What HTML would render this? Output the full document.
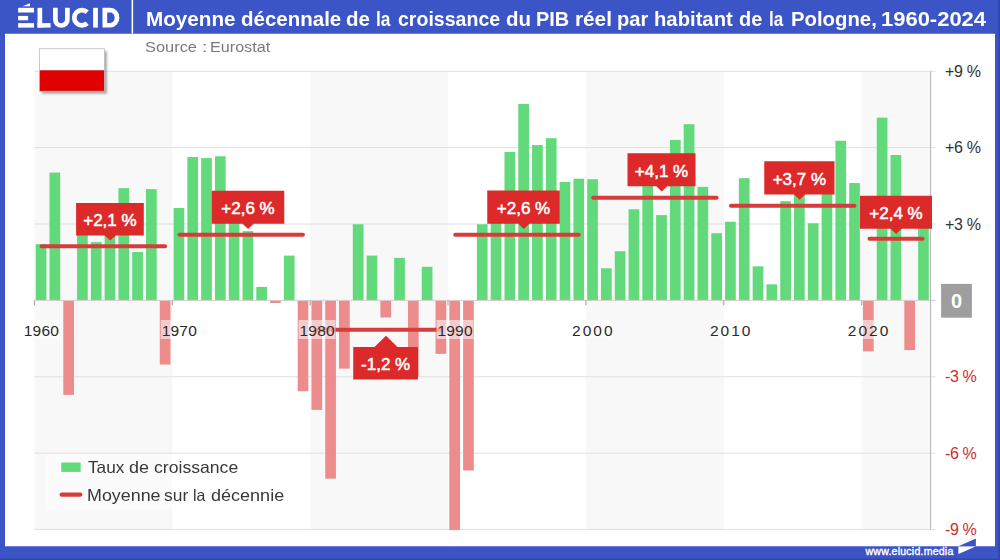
<!DOCTYPE html>
<html><head><meta charset="utf-8"><style>
html,body{margin:0;padding:0;background:#fff;}
body{width:1000px;height:560px;position:relative;overflow:hidden;font-family:"Liberation Sans",sans-serif;}
svg{position:absolute;left:0;top:0;}
.bt{font-family:"Liberation Sans",sans-serif;font-weight:normal;font-size:17px;fill:#fff;stroke:#fff;stroke-width:0.5px;}
.xt{font-family:"Liberation Sans",sans-serif;font-size:15.5px;fill:#2a2a2a;letter-spacing:2px;}
.yt{font-family:"Liberation Sans",sans-serif;font-size:16px;fill:#333;letter-spacing:-0.35px;}
.neg{fill:#cc2e2e;}
.tw{position:absolute;top:6.8px;color:#fff;font-weight:bold;font-size:19.8px;white-space:nowrap;line-height:24px;transform-origin:0 0;}
.src{position:absolute;color:#7a7a7a;font-size:14px;white-space:nowrap;line-height:18px;transform-origin:0 0;}
.lg{position:absolute;color:#383838;font-size:16.5px;white-space:nowrap;line-height:18px;transform-origin:0 0;}
.www{position:absolute;left:865.5px;top:544.3px;color:#fff;font-weight:normal;font-size:10.6px;white-space:nowrap;line-height:14px;letter-spacing:0.2px;-webkit-text-stroke:0.35px #fff;}
</style></head><body>
<svg width="1000" height="560" viewBox="0 0 1000 560">
<rect x="0" y="0" width="1000" height="560" fill="#fff"/>
<rect x="34.4" y="71.25" width="137.88" height="458.25" fill="#f8f8f8"/><rect x="310.15" y="71.25" width="137.88" height="458.25" fill="#f8f8f8"/><rect x="585.91" y="71.25" width="137.88" height="458.25" fill="#f8f8f8"/><rect x="861.66" y="71.25" width="68.94" height="458.25" fill="#f8f8f8"/><line x1="34.4" y1="529.54" x2="935.5" y2="529.54" stroke="#e0e0e0" stroke-width="1"/><line x1="34.4" y1="453.16" x2="935.5" y2="453.16" stroke="#e0e0e0" stroke-width="1"/><line x1="34.4" y1="376.78" x2="935.5" y2="376.78" stroke="#e0e0e0" stroke-width="1"/><line x1="34.4" y1="224.02" x2="935.5" y2="224.02" stroke="#e0e0e0" stroke-width="1"/><line x1="34.4" y1="147.64" x2="935.5" y2="147.64" stroke="#e0e0e0" stroke-width="1"/><line x1="34.4" y1="71.26" x2="935.5" y2="71.26" stroke="#e0e0e0" stroke-width="1"/><rect x="35.7" y="244.13" width="10.7" height="56.27" fill="#62d97b"/><rect x="49.49" y="172.59" width="10.7" height="127.81" fill="#62d97b"/><rect x="63.28" y="300.4" width="10.7" height="94.46" fill="#ec8c8c"/><rect x="77.06" y="211.29" width="10.7" height="89.11" fill="#62d97b"/><rect x="90.85" y="242.1" width="10.7" height="58.3" fill="#62d97b"/><rect x="104.64" y="211.29" width="10.7" height="89.11" fill="#62d97b"/><rect x="118.43" y="188.12" width="10.7" height="112.28" fill="#62d97b"/><rect x="132.21" y="252.03" width="10.7" height="48.37" fill="#62d97b"/><rect x="146" y="189.14" width="10.7" height="111.26" fill="#62d97b"/><rect x="159.79" y="300.4" width="10.7" height="64.16" fill="#ec8c8c"/><rect x="173.58" y="207.98" width="10.7" height="92.42" fill="#62d97b"/><rect x="187.36" y="157.06" width="10.7" height="143.34" fill="#62d97b"/><rect x="201.15" y="158.08" width="10.7" height="142.32" fill="#62d97b"/><rect x="214.94" y="156.3" width="10.7" height="144.1" fill="#62d97b"/><rect x="228.73" y="193.98" width="10.7" height="106.42" fill="#62d97b"/><rect x="242.52" y="231.15" width="10.7" height="69.25" fill="#62d97b"/><rect x="256.3" y="286.91" width="10.7" height="13.49" fill="#62d97b"/><rect x="270.09" y="300.4" width="10.7" height="2.55" fill="#ec8c8c"/><rect x="283.88" y="255.59" width="10.7" height="44.81" fill="#62d97b"/><rect x="297.67" y="300.4" width="10.7" height="90.89" fill="#ec8c8c"/><rect x="311.45" y="300.4" width="10.7" height="109.48" fill="#ec8c8c"/><rect x="325.24" y="300.4" width="10.7" height="178.22" fill="#ec8c8c"/><rect x="339.03" y="300.4" width="10.7" height="68.23" fill="#ec8c8c"/><rect x="352.82" y="224.27" width="10.7" height="76.13" fill="#62d97b"/><rect x="366.6" y="255.59" width="10.7" height="44.81" fill="#62d97b"/><rect x="380.39" y="300.4" width="10.7" height="17.06" fill="#ec8c8c"/><rect x="394.18" y="257.88" width="10.7" height="42.52" fill="#62d97b"/><rect x="407.97" y="300.4" width="10.7" height="76.13" fill="#ec8c8c"/><rect x="421.76" y="266.79" width="10.7" height="33.61" fill="#62d97b"/><rect x="435.54" y="300.4" width="10.7" height="53.47" fill="#ec8c8c"/><rect x="449.33" y="300.4" width="10.7" height="229.65" fill="#ec8c8c"/><rect x="463.12" y="300.4" width="10.7" height="170.07" fill="#ec8c8c"/><rect x="476.91" y="224.27" width="10.7" height="76.13" fill="#62d97b"/><rect x="490.69" y="217.4" width="10.7" height="83" fill="#62d97b"/><rect x="504.48" y="151.97" width="10.7" height="148.43" fill="#62d97b"/><rect x="518.27" y="103.85" width="10.7" height="196.55" fill="#62d97b"/><rect x="532.06" y="145.09" width="10.7" height="155.31" fill="#62d97b"/><rect x="545.84" y="138.22" width="10.7" height="162.18" fill="#62d97b"/><rect x="559.63" y="182.01" width="10.7" height="118.39" fill="#62d97b"/><rect x="573.42" y="178.7" width="10.7" height="121.7" fill="#62d97b"/><rect x="587.21" y="179.21" width="10.7" height="121.19" fill="#62d97b"/><rect x="601" y="268.32" width="10.7" height="32.08" fill="#62d97b"/><rect x="614.78" y="251.26" width="10.7" height="49.14" fill="#62d97b"/><rect x="628.57" y="209.25" width="10.7" height="91.15" fill="#62d97b"/><rect x="642.36" y="170.55" width="10.7" height="129.85" fill="#62d97b"/><rect x="656.15" y="215.11" width="10.7" height="85.29" fill="#62d97b"/><rect x="669.93" y="140" width="10.7" height="160.4" fill="#62d97b"/><rect x="683.72" y="124.22" width="10.7" height="176.18" fill="#62d97b"/><rect x="697.51" y="186.85" width="10.7" height="113.55" fill="#62d97b"/><rect x="711.3" y="233.19" width="10.7" height="67.21" fill="#62d97b"/><rect x="725.08" y="221.73" width="10.7" height="78.67" fill="#62d97b"/><rect x="738.87" y="178.19" width="10.7" height="122.21" fill="#62d97b"/><rect x="752.66" y="266.28" width="10.7" height="34.12" fill="#62d97b"/><rect x="766.45" y="284.36" width="10.7" height="16.04" fill="#62d97b"/><rect x="780.24" y="201.11" width="10.7" height="99.29" fill="#62d97b"/><rect x="794.02" y="190.92" width="10.7" height="109.48" fill="#62d97b"/><rect x="807.81" y="223.26" width="10.7" height="77.14" fill="#62d97b"/><rect x="821.6" y="172.34" width="10.7" height="128.06" fill="#62d97b"/><rect x="835.39" y="140.77" width="10.7" height="159.63" fill="#62d97b"/><rect x="849.17" y="183.03" width="10.7" height="117.37" fill="#62d97b"/><rect x="862.96" y="300.4" width="10.7" height="50.92" fill="#ec8c8c"/><rect x="876.75" y="117.6" width="10.7" height="182.8" fill="#62d97b"/><rect x="890.54" y="155.02" width="10.7" height="145.38" fill="#62d97b"/><rect x="904.32" y="300.4" width="10.7" height="49.65" fill="#ec8c8c"/><rect x="918.11" y="222.49" width="10.7" height="77.91" fill="#62d97b"/><line x1="34.4" y1="300.4" x2="935.5" y2="300.4" stroke="#d8cccc" stroke-width="1"/><line x1="34.4" y1="300.4" x2="34.4" y2="305.4" stroke="#9c9c9c" stroke-width="1"/><line x1="172.28" y1="300.4" x2="172.28" y2="305.4" stroke="#9c9c9c" stroke-width="1"/><line x1="310.15" y1="300.4" x2="310.15" y2="305.4" stroke="#9c9c9c" stroke-width="1"/><line x1="448.03" y1="300.4" x2="448.03" y2="305.4" stroke="#9c9c9c" stroke-width="1"/><line x1="585.91" y1="300.4" x2="585.91" y2="305.4" stroke="#9c9c9c" stroke-width="1"/><line x1="723.78" y1="300.4" x2="723.78" y2="305.4" stroke="#9c9c9c" stroke-width="1"/><line x1="861.66" y1="300.4" x2="861.66" y2="305.4" stroke="#9c9c9c" stroke-width="1"/><line x1="930.6" y1="71.25" x2="930.6" y2="529.5" stroke="#b4b4b4" stroke-width="1"/>
<line x1="41.59" y1="246.17" x2="165.08" y2="246.17" stroke="#d63c3c" stroke-width="4" stroke-linecap="round"/><line x1="179.47" y1="234.71" x2="302.96" y2="234.71" stroke="#d63c3c" stroke-width="4" stroke-linecap="round"/><line x1="317.35" y1="329.68" x2="440.84" y2="329.68" stroke="#d63c3c" stroke-width="4" stroke-linecap="round"/><line x1="455.22" y1="234.71" x2="578.71" y2="234.71" stroke="#d63c3c" stroke-width="4" stroke-linecap="round"/><line x1="593.1" y1="197.8" x2="716.59" y2="197.8" stroke="#d63c3c" stroke-width="4" stroke-linecap="round"/><line x1="730.98" y1="205.69" x2="854.47" y2="205.69" stroke="#d63c3c" stroke-width="4" stroke-linecap="round"/><line x1="869.5" y1="238.79" x2="922.5" y2="238.79" stroke="#d63c3c" stroke-width="4" stroke-linecap="round"/>
<rect x="22.79" y="320" width="37" height="19" fill="#fff" fill-opacity="0.55"/><text x="41.49" y="335.8" text-anchor="middle" class="xt" style="letter-spacing:0.25px">1960</text><rect x="160.67" y="320" width="37" height="19" fill="#fff" fill-opacity="0.55"/><text x="179.37" y="335.8" text-anchor="middle" class="xt" style="letter-spacing:0.25px">1970</text><rect x="298.55" y="320" width="37" height="19" fill="#fff" fill-opacity="0.55"/><text x="317.25" y="335.8" text-anchor="middle" class="xt" style="letter-spacing:0.25px">1980</text><rect x="436.42" y="320" width="37" height="19" fill="#fff" fill-opacity="0.55"/><text x="455.12" y="335.8" text-anchor="middle" class="xt" style="letter-spacing:0.25px">1990</text><rect x="574.3" y="320" width="37" height="19" fill="#fff" fill-opacity="0.55"/><text x="593.3" y="335.8" text-anchor="middle" class="xt">2000</text><rect x="712.18" y="320" width="37" height="19" fill="#fff" fill-opacity="0.55"/><text x="731.18" y="335.8" text-anchor="middle" class="xt">2010</text><rect x="850.06" y="320" width="37" height="19" fill="#fff" fill-opacity="0.55"/><text x="869.06" y="335.8" text-anchor="middle" class="xt">2020</text>
<path d="M76.1,203H143.8V235.4H115.73L110.23,240.6L104.73,235.4H76.1Z" fill="#dc2a2a"/><text x="109.95" y="226" text-anchor="middle" class="bt">+2,1 %</text><path d="M211.75,190.75H284.25V223.75H253.61L248.11,228.95L242.61,223.75H211.75Z" fill="#dc2a2a"/><text x="248" y="214.05" text-anchor="middle" class="bt">+2,6 %</text><path d="M353.25,347H374.49L385.99,335.7L397.49,347H418V379.5H353.25Z" fill="#dc2a2a"/><text x="385.62" y="370.05" text-anchor="middle" class="bt">-1,2 %</text><path d="M487.25,190.6H559.75V223.75H529.36L523.86,228.95L518.36,223.75H487.25Z" fill="#dc2a2a"/><text x="523.5" y="213.98" text-anchor="middle" class="bt">+2,6 %</text><path d="M627.5,153.25H695.5V186.25H667.24L661.74,191.45L656.24,186.25H627.5Z" fill="#dc2a2a"/><text x="661.5" y="176.55" text-anchor="middle" class="bt">+4,1 %</text><path d="M764.25,161.25H834.5V194.5H805.12L799.62,199.7L794.12,194.5H764.25Z" fill="#dc2a2a"/><text x="799.38" y="184.68" text-anchor="middle" class="bt">+3,7 %</text><path d="M860,195.75H932V228.75H901.63L896.13,233.95L890.63,228.75H860Z" fill="#dc2a2a"/><text x="896" y="219.05" text-anchor="middle" class="bt">+2,4 %</text>
<text x="945" y="535.24" class="yt neg">-9 %</text><text x="945" y="458.86" class="yt neg">-6 %</text><text x="945" y="382.48" class="yt neg">-3 %</text><text x="945" y="229.72" class="yt">+3 %</text><text x="945" y="153.34" class="yt">+6 %</text><text x="945" y="76.96" class="yt">+9 %</text>
<rect x="941.1" y="283.9" width="30.8" height="33.8" fill="#9e9e9e"/>
<text x="956.5" y="308.4" text-anchor="middle" style="font-family:'Liberation Sans',sans-serif;font-weight:bold;font-size:20px;fill:#fff">0</text>
<!-- legend -->
<rect x="46" y="454" width="246" height="56" fill="#fff" fill-opacity="0.4"/>
<rect x="61.25" y="462.5" width="19.4" height="9.4" fill="#62d97b"/>
<line x1="61.8" y1="494.6" x2="80.2" y2="494.6" stroke="#d63c3c" stroke-width="4.4" stroke-linecap="round"/>
<!-- flag -->
<rect x="41.9" y="51.2" width="65" height="42.5" fill="#000" fill-opacity="0.33" filter="url(#blur)"/>
<rect x="39.4" y="48.75" width="65" height="21.6" fill="#fff"/>
<rect x="39.4" y="70.35" width="65" height="20.9" fill="#e00000"/>
<rect x="39.4" y="48.75" width="65" height="42.5" fill="none" stroke="#bdbdbd" stroke-width="0.8"/>
<defs><filter id="blur" x="-20%" y="-20%" width="140%" height="140%"><feGaussianBlur stdDeviation="1.0"/></filter></defs>
<!-- frame -->
<rect x="0" y="0" width="1000" height="33.75" fill="#3b54c6"/>
<rect x="0" y="0" width="5" height="560" fill="#3b54c6"/>
<rect x="995" y="0" width="5" height="560" fill="#3b54c6"/>
<rect x="0" y="546.25" width="1000" height="13.75" fill="#3b54c6"/>
<rect x="131.6" y="0" width="1.5" height="33.75" fill="#fff"/>
<rect x="998.4" y="0" width="1.6" height="560" fill="#2f47ad"/>
<rect x="0" y="558.6" width="1000" height="1.4" fill="#2f47ad"/>
<!-- logo -->
<g fill="#fff">
<rect x="18.1" y="7.8" width="15.9" height="4.7"/>
<rect x="18.1" y="15.9" width="10" height="4.4"/>
<rect x="18.1" y="23.1" width="15.9" height="4.5"/>
<path d="M22.5,6.3L30,3.2V6.3Z"/>
<rect x="37.5" y="7.8" width="4.7" height="19.8"/>
<rect x="37.5" y="23.1" width="13.1" height="4.5"/>
<rect x="93.1" y="7.8" width="4.8" height="19.8"/>
</g>
<g fill="none" stroke="#fff" stroke-width="4.7">
<path d="M55.35,7.8V19.5A6,6 0 0 0 67.35,19.5V7.8"/>
<path d="M87.2,12.3A7.6,7.6 0 1 0 87.2,23.2"/>
<path d="M104.85,10.15H110.3A6.75,7.55 0 0 1 110.3,25.25H104.85Z"/>
</g>
<path d="M958.4,546.3L975.9,538.4V546.3Z" fill="#3b54c6"/>
<path d="M958.4,546.5H975.6L958.4,554Z" fill="#fff"/>
</svg>
<span class="tw" style="left:145.75px;transform:scaleX(1.0446)">Moyenne</span><span class="tw" style="left:240.7px;transform:scaleX(1.0358)">décennale</span><span class="tw" style="left:345.5px;transform:scaleX(1.0364)">de</span><span class="tw" style="left:376.3px;transform:scaleX(0.8750)">la</span><span class="tw" style="left:397.5px;transform:scaleX(0.9882)">croissance</span><span class="tw" style="left:505.7px;transform:scaleX(1.0364)">du</span><span class="tw" style="left:536.3px;transform:scaleX(1.0065)">PIB</span><span class="tw" style="left:574.7px;transform:scaleX(1.0485)">réel</span><span class="tw" style="left:616.5px;transform:scaleX(1.0200)">par</span><span class="tw" style="left:653.7px;transform:scaleX(1.0237)">habitant</span><span class="tw" style="left:738.7px;transform:scaleX(1.0091)">de</span><span class="tw" style="left:768.7px;transform:scaleX(0.8625)">la</span><span class="tw" style="left:790.9px;transform:scaleX(1.0272)">Pologne,</span><span class="tw" style="left:880.7px;transform:scaleX(1.1106)">1960-2024</span>
<span class="src" style="left:145.13px;top:38px;transform:scaleX(1.1721)">Source</span><span class="src" style="left:201.6px;top:38px;transform:scaleX(1.4000)">:</span><span class="src" style="left:210.25px;top:38px;transform:scaleX(1.1539)">Eurostat</span>
<span class="lg" style="left:87.66px;top:457.5px;transform:scaleX(1.0441)">Taux</span><span class="lg" style="left:129.41px;top:457.5px;transform:scaleX(1.0882)">de</span><span class="lg" style="left:153.93px;top:457.5px;transform:scaleX(1.0675)">croissance</span>
<span class="lg" style="left:86.92px;top:485.5px;transform:scaleX(1.0833)">Moyenne</span><span class="lg" style="left:163.94px;top:485.5px;transform:scaleX(1.0568)">sur</span><span class="lg" style="left:192.79px;top:485.5px;transform:scaleX(0.9625)">la</span><span class="lg" style="left:210.81px;top:485.5px;transform:scaleX(1.0923)">décennie</span>
<div class="www">www.elucid.media</div>
</body></html>
